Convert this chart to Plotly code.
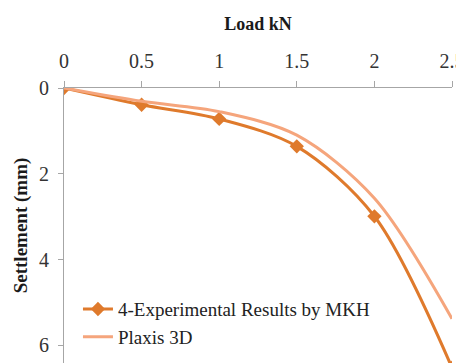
import plotly.graph_objects as go

load_kn = [0, 0.5, 1.0, 1.5, 2.0, 2.5]
experimental_mkh = [0, 0.39, 0.72, 1.36, 2.99, 6.52]
plaxis_3d = [0, 0.31, 0.55, 1.10, 2.57, 5.38]

x_ticks = [0, 0.5, 1, 1.5, 2, 2.5]
x_ticklabels = ["0", "0.5", "1", "1.5", "2", "2.5"]
y_ticks = [0, 2, 4, 6]

exp_color = "#DF7A2C"
plx_color = "#F5A57C"
serif = '"Liberation Serif", "Times New Roman", serif'

fig = go.Figure()
fig.add_trace(go.Scatter(
    x=load_kn, y=experimental_mkh, name="4-Experimental Results by MKH",
    mode="lines+markers", line=dict(color=exp_color, width=3, shape="spline", smoothing=0.9),
    marker=dict(symbol="diamond", size=11, color=exp_color),
))
fig.add_trace(go.Scatter(
    x=load_kn, y=plaxis_3d, name="Plaxis 3D",
    mode="lines", line=dict(color=plx_color, width=3, shape="spline", smoothing=0.9),
))

fig.update_layout(
    width=456, height=355,
    margin=dict(l=56, r=12, t=80, b=0),
    paper_bgcolor="white", plot_bgcolor="white",
    font=dict(family=serif, color="#333333", size=20),
    showlegend=True,
    legend=dict(
        x=0.036, y=0.265, xanchor="left", yanchor="top",
        font=dict(family=serif, size=19, color="#222222"),
        bgcolor="rgba(0,0,0,0)", tracegroupgap=0, itemwidth=30,
    ),
    xaxis=dict(
        side="top", range=[0, 2.5], tickvals=x_ticks, ticktext=x_ticklabels,
        automargin=False, ticklabeloverflow="allow", ticklabelstandoff=5,
        showgrid=False, zeroline=False, showline=True, linecolor="#A6A6A6", linewidth=1,
        ticks="outside", ticklen=6, tickcolor="#A6A6A6",
        title=dict(text="<b>Load kN</b>", font=dict(family=serif, size=18, color="#1a1a1a"), standoff=14),
        tickfont=dict(family=serif, size=20, color="#333333"),
    ),
    yaxis=dict(
        range=[6.41, 0], tickvals=y_ticks, automargin=False, ticklabelstandoff=5,
        showgrid=False, zeroline=False, showline=True, linecolor="#A6A6A6", linewidth=1,
        ticks="outside", ticklen=5, tickcolor="#A6A6A6",
        title=dict(text="<b>Settlement (mm)</b>", font=dict(family=serif, size=19, color="#1a1a1a"), standoff=6),
        tickfont=dict(family=serif, size=20, color="#333333"),
    ),
)

fig.write_html("out.html")
